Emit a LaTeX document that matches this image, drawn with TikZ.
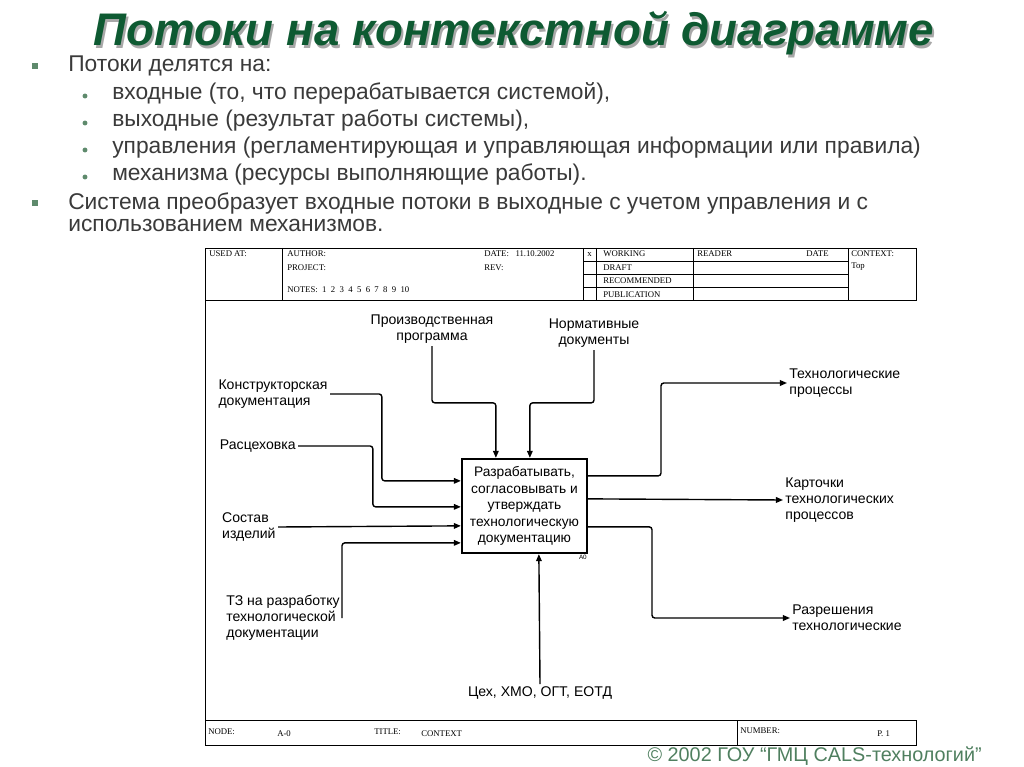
\documentclass[tikz,border=0pt]{standalone}
\usepackage{fontspec}
\setmainfont{Liberation Sans}
\newfontfamily\hdrfont{Liberation Serif}
\usepackage{tikz}
\usetikzlibrary{calc,arrows.meta,positioning}
\definecolor{titlegreen}{HTML}{0E5A32}
\definecolor{shadowgray}{HTML}{A8A8A8}
\definecolor{bodygray}{HTML}{3A3A3A}
\definecolor{bulletgreen}{HTML}{5E8A6C}
\definecolor{copygreen}{HTML}{4F7F5F}

\begin{document}
\begin{tikzpicture}[
  x=0.025cm, y=-0.025cm,
  heading/.style={font=\fontsize{32.5}{38}\selectfont\bfseries\itshape, inner sep=0pt},
  item/.style={anchor=base west, inner sep=0pt, text=bodygray, font=\fontsize{16.2}{19}\selectfont},
  sqbullet/.style={fill=bulletgreen, minimum size=4.3pt, inner sep=0pt},
  dotbullet/.style={circle, fill=bulletgreen, minimum size=3.5pt, inner sep=0pt},
  hdr/.style={anchor=base west, inner sep=0pt, font=\hdrfont\fontsize{6.2}{7}\selectfont},
  lbl/.style={inner sep=1.5pt, align=left, font=\fontsize{10}{11.5}\selectfont},
  func/.style={draw, line width=1.6pt, minimum width=3.125cm, minimum height=2.35cm, align=center, inner sep=1pt, font=\fontsize{9.8}{11.8}\selectfont},
  flow/.style={-{Triangle[length=5pt,width=4pt]}, line width=1pt, rounded corners=2pt},
  frame/.style={line width=0.6pt},
]
  \useasboundingbox (0,0) rectangle (1024,767);

  % Title with shadow
  \node[heading, text=shadowgray, anchor=base] (titleshadow) at (516,49) {Потоки на контекстной диаграмме};
  \node[heading, text=titlegreen, anchor=base] (title) at (514,46) {Потоки на контекстной диаграмме};

  % Bulleted list
  \node[sqbullet] (bul1) at (35,66) {};
  \node[item] (line1) at (68,72) {Потоки делятся на:};
  \foreach \yy/\txt [count=\i] in {100/{входные (то, что перерабатывается системой),},
      127/{выходные (результат работы системы),},
      154/{управления (регламентирующая и управляющая информации или правила)},
      181/{механизма (ресурсы выполняющие работы).}}{
    \node[dotbullet] (dot\i) at (85,\yy-4) {};
    \node[item] (sub\i) at (112,\yy) {\txt};
  }
  \node[sqbullet] (bul2) at (35,203) {};
  \node[item] (line2) at (68,210) {Система преобразует входные потоки в выходные с учетом управления и с};
  \node[item] (line3) at (68,232) {использованием механизмов.};

  % IDEF0 frame
  \draw[frame] (205,248) rectangle (916,300);
  \foreach \x in {282,583,596,693,848} \draw[frame] (\x,248) -- (\x,300);
  \foreach \y in {261,274,287} \draw[frame] (583,\y) -- (848,\y);
  \draw[frame] (205,300) -- (205,720);
  \draw[frame] (205,720) rectangle (916,745);
  \draw[frame] (737,720) -- (737,745);

  % Header texts
  \node[hdr] (usedat) at (209,257) {USED AT:};
  \node[hdr] (author) at (287,257) {AUTHOR:};
  \node[hdr] (project) at (287,270) {PROJECT:};
  \node[hdr] (notes) at (287,292) {NOTES:\ \ 1\ \ 2\ \ 3\ \ 4\ \ 5\ \ 6\ \ 7\ \ 8\ \ 9\ \ 10};
  \node[hdr] (date) at (484,257) {DATE:\ \ \ 11.10.2002};
  \node[hdr] (rev) at (484,270) {REV:};
  \node[hdr] (mark) at (587,257) {x};
  \node[hdr] (working) at (603,257) {WORKING};
  \node[hdr] (draft) at (603,270) {DRAFT};
  \node[hdr] (recommended) at (603,283) {RECOMMENDED};
  \node[hdr] (publication) at (603,297) {PUBLICATION};
  \node[hdr] (reader) at (697,257) {READER};
  \node[hdr] (rdate) at (806,257) {DATE};
  \node[hdr] (context) at (851,257) {CONTEXT:};
  \node[hdr] (top) at (851,269) {Top};

  % Footer texts
  \node[hdr] (node) at (208,734) {NODE:};
  \node[hdr] (nodeno) at (277,736) {A-0};
  \node[hdr] (titlelbl) at (374,734) {TITLE:};
  \node[hdr] (titletxt) at (421,736) {CONTEXT};
  \node[hdr] (number) at (740,733) {NUMBER:};
  \node[hdr] (page) at (877,736) {P. 1};

  % Function block
  \node[func] (act) at (524.5,506) {Разрабатывать,\\согласовывать и\\утверждать\\технологическую\\документацию};
  \node[font=\fontsize{4.5}{5}\selectfont, anchor=north east, inner sep=0.8pt] (actnum) at (act.south east) {A0};

  % Arrow ends on the block
  \coordinate (c1) at ($(act.north west)+(35,0)$);
  \coordinate (c2) at ($(act.north west)+(69,0)$);
  \coordinate (i1) at ($(act.north west)+(0,23)$);
  \coordinate (i2) at ($(act.north west)+(0,49)$);
  \coordinate (i3) at ($(act.north west)+(0,68)$);
  \coordinate (i4) at ($(act.north west)+(0,85)$);
  \coordinate (o1) at ($(act.north east)+(0,18)$);
  \coordinate (o2) at ($(act.north east)+(0,41)$);
  \coordinate (o3) at ($(act.north east)+(0,69)$);
  \coordinate (m1) at ($(act.south west)+(78,0)$);

  % Controls
  \node[lbl, align=center, anchor=south] (prog) at (432,346) {Производственная\\программа};
  \node[lbl, align=center, anchor=south] (norm) at (594,350) {Нормативные\\документы};

  % Inputs
  \node[lbl, anchor=east] (kd) at (330,394) {Конструкторская\\документация};
  \node[lbl, anchor=east] (rc) at (298,446) {Расцеховка};
  \node[lbl, anchor=east] (sost) at (278,527) {Состав\\изделий};
  \node[lbl, anchor=east] (tz) at (342,618) {ТЗ на разработку\\технологической\\документации};

  % Outputs
  \node[lbl, anchor=west] (tp) at (787,383) {Технологические\\процессы};
  \node[lbl, anchor=west] (kart) at (783,500) {Карточки\\технологических\\процессов};
  \node[lbl, anchor=west] (razr) at (790,618) {Разрешения\\технологические};

  % Mechanism
  \node[lbl, align=center, anchor=north] (mech) at (540,684) {Цех, ХМО, ОГТ, ЕОТД};

  % Flows
  \draw[flow] (prog.south) |- ($(c1)+(0,-55)$) -- (c1);
  \draw[flow] (norm.south) |- ($(c2)+(0,-55)$) -- (c2);
  \draw[flow] (kd.east) -| ($(i1)+(-79,0)$) -- (i1);
  \draw[flow] (rc.east) -| ($(i2)+(-88,0)$) -- (i2);
  \draw[flow] (sost.east) -- (i3);
  \draw[flow] (tz.east) |- (i4);
  \draw[flow] (o1) -| ($(tp.west)+(-126,0)$) -- (tp.west);
  \draw[flow] (o2) -- (kart.west);
  \draw[flow] (o3) -| ($(razr.west)+(-138,0)$) -- (razr.west);
  \draw[flow] (mech.north) -- (m1);

  % Copyright
  \node[anchor=base east, inner sep=0pt, text=copygreen, font=\fontsize{14.1}{16}\selectfont] (copyright) at (982,761) {© 2002 ГОУ “ГМЦ CALS-технологий”};
\end{tikzpicture}
\end{document}
